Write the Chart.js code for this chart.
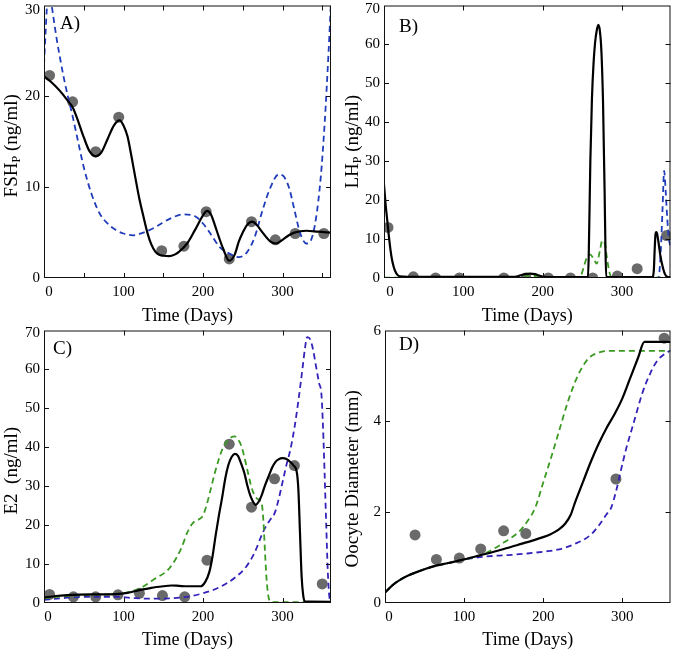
<!DOCTYPE html>
<html>
<head>
<meta charset="utf-8">
<script src="https://cdn.jsdelivr.net/npm/chart.js@4.4.0/dist/chart.umd.min.js"></script>
<style>
  body { margin: 0; background: #fff; }
  #wrap { position: relative; width: 676px; height: 650px; }
  canvas { position: absolute; }
</style>
</head>
<body>
<div id="wrap">
  <canvas id="cA" width="338" height="325" style="left:0;top:0"></canvas>
  <canvas id="cB" width="338" height="325" style="left:338px;top:0"></canvas>
  <canvas id="cC" width="338" height="325" style="left:0;top:325px"></canvas>
  <canvas id="cD" width="338" height="325" style="left:338px;top:325px"></canvas>
</div>
<script>
//DATOS
// A) FSH
const fshDotDays = [7, 36, 65, 94, 148, 176, 204, 233, 261, 291, 316, 352];
const fshDotVals = [22.3, 19.4, 13.9, 17.7, 3.0, 3.5, 7.3, 2.1, 6.2, 4.2, 4.9, 4.9];
const fshFitDays = [0, 10, 20, 30, 36, 42, 50, 57, 65, 72, 80, 88, 95, 100, 105, 110, 115, 120, 125, 130, 135, 140, 145, 150, 157, 165, 170, 180, 190, 200, 205, 210, 215, 220, 225, 233, 240, 245, 250, 255, 262, 268, 275, 285, 292, 300, 308, 315, 330, 345, 361];
const fshFitVals = [22.2, 21.5, 20.6, 19.5, 18.8, 17.5, 15.5, 14.0, 13.4, 13.8, 15.3, 16.8, 17.35, 16.8, 15.6, 13.4, 11.0, 8.7, 6.8, 5.0, 3.7, 2.9, 2.55, 2.45, 2.4, 2.6, 2.9, 3.8, 5.3, 6.9, 7.4, 7.0, 5.8, 4.5, 3.3, 1.9, 2.6, 4.0, 5.0, 5.8, 6.2, 5.8, 5.0, 4.0, 3.8, 4.2, 4.7, 5.0, 5.2, 5.1, 5.0];
const fshBlueDays = [0, 2, 4, 7, 10, 13, 16, 20, 25, 30, 35, 40, 50, 60, 70, 80, 90, 100, 112, 125, 140, 160, 175, 190, 200, 210, 220, 235, 245, 255, 265, 275, 285, 295, 300, 308, 315, 322, 330, 336, 342, 348, 353, 358, 361];
const fshBlueVals = [23.5, 27, 30.2, 31, 29.8, 28, 26.3, 24.3, 22, 20, 18.2, 16.2, 12.2, 9.2, 7.1, 6.0, 5.3, 4.9, 4.7, 5.0, 5.6, 6.6, 7.0, 6.8, 6.0, 4.8, 3.5, 2.6, 2.3, 2.8, 4.5, 7.5, 10, 11.4, 11.3, 10, 7.5, 5, 3.8, 4.2, 6.5, 11, 17, 25, 30.5];

// B) LH
const lhDotDays = [5, 37, 65, 95, 151, 179, 207, 235, 263, 294, 319, 356];
const lhDotVals = [13.0, 0.3, 0, 0, 0, 0, 0, 0, 0, 0.5, 2.4, 10.9];
const lhFitDays = [0, 2, 4, 6, 8, 10, 12, 14, 17, 20, 30, 100, 165, 172, 178, 184, 190, 196, 202, 210, 250, 257, 258, 260, 262, 264, 266, 268, 270, 272, 274, 276, 278, 279, 280, 300, 338, 340, 341, 342, 343, 344, 346, 348, 351, 354, 358, 361];
const lhFitVals = [24, 19, 15, 11, 7.5, 4.8, 3, 1.8, 0.8, 0.4, 0.3, 0.3, 0.3, 0.7, 1.0, 1.1, 1.0, 0.6, 0.3, 0.2, 0.2, 0.2, 6, 30, 46, 55, 60.5, 63.5, 65, 63.5, 58, 45, 22, 8, 0.3, 0.2, 0.2, 2, 7, 11, 11.8, 11.5, 9, 6, 3, 1, 0.2, 0.2];
const lhGreenDays = [0, 165, 172, 180, 188, 195, 202, 245, 248, 252, 256, 260, 264, 268, 272, 275, 278, 281, 284, 287, 361];
const lhGreenVals = [0.1, 0.1, 0.4, 0.7, 0.6, 0.3, 0.1, 0.1, 0.5, 3, 5.5, 6, 5, 3.7, 7, 9.6, 9, 5, 1.5, 0.1, 0.1];
const lhBlueDays = [0, 344, 346, 349, 351, 353, 355, 357, 359, 361];
const lhBlueVals = [0.05, 0.05, 0.2, 8, 18, 27.5, 22, 15, 10, 8];

// C) E2
const e2DotDays = [7, 37, 65, 93, 120, 149, 177, 205, 233, 261, 290, 315, 350];
const e2DotVals = [2.2, 1.6, 1.6, 2.1, 2.5, 1.9, 1.6, 11.0, 40.8, 24.6, 31.9, 35.3, 4.9];
const e2FitDays = [0, 15, 30, 60, 90, 105, 120, 135, 150, 160, 170, 180, 190, 197, 203, 208, 212, 216, 220, 224, 228, 232, 236, 240, 244, 248, 252, 256, 260, 263, 266, 270, 274, 278, 283, 287, 291, 295, 300, 305, 310, 314, 318, 320, 322, 324, 326, 328, 361];
const e2FitVals = [1.4, 1.8, 2.0, 2.2, 2.3, 2.6, 3.3, 3.9, 4.3, 4.5, 4.4, 4.3, 4.3, 4.3, 5.5, 8, 12, 17.5, 22.5, 27, 32, 35.5, 37.5, 38.3, 37.8, 35.8, 33.4, 30, 27.3, 26, 25.2, 26, 27.8, 30.2, 32.8, 34.8, 36.2, 36.9, 37.2, 37, 36.2, 35.3, 33.6, 29, 18, 7, 2, 0.4, 0.3];
const e2GreenDays = [0, 30, 60, 90, 100, 110, 120, 130, 140, 152, 160, 173, 180, 187, 192, 195, 200, 205, 210, 215, 220, 225, 230, 235, 240, 244, 248, 252, 256, 260, 264, 268, 272, 274, 276, 278, 280, 282, 284, 287, 361];
const e2GreenVals = [1.2, 1.8, 2.1, 2.3, 2.5, 3.0, 3.7, 4.9, 6.3, 7.8, 9.5, 14.2, 18, 20.5, 21.2, 21.5, 22.5, 25.5, 29.5, 33.5, 37, 39.8, 41.5, 42.5, 42.8, 42, 40.5, 37.5, 34, 30.5, 28, 26.8, 26.3, 25.5, 21, 13, 6, 2, 0.5, 0.2, 0.2];
const e2BlueDays = [0, 20, 50, 90, 110, 130, 160, 180, 200, 220, 240, 255, 265, 275, 280, 285, 290, 295, 300, 305, 310, 315, 320, 325, 328, 331, 334, 338, 342, 346, 349, 351, 353, 355, 357, 359, 361];
const e2BlueVals = [0.8, 1.2, 1.6, 1.6, 1.3, 1.1, 1.2, 1.6, 2.5, 4, 6.5, 9.5, 13, 18, 20, 21.5, 23, 26.5, 31, 35.5, 39.5, 45, 52, 60, 65, 68.3, 68, 65.5, 61, 56.5, 53.5, 45, 33, 20, 8, 1.5, 0.3];

// D) Oocyte
const ooDotDays = [38, 65, 94, 121, 150, 178, 292, 353];
const ooDotVals = [1.50, 0.96, 0.99, 1.19, 1.59, 1.53, 2.73, 5.83];
const ooFitDays = [0, 10, 20, 30, 40, 60, 80, 100, 120, 140, 160, 180, 200, 210, 220, 228, 235, 240, 250, 260, 270, 280, 290, 300, 310, 320, 328, 361];
const ooFitVals = [0.23, 0.4, 0.52, 0.61, 0.68, 0.8, 0.88, 0.96, 1.05, 1.14, 1.24, 1.34, 1.45, 1.52, 1.62, 1.75, 1.95, 2.2, 2.65, 3.1, 3.5, 3.85, 4.15, 4.5, 4.95, 5.4, 5.75, 5.75];
const ooGreenDays = [0, 10, 20, 30, 40, 60, 80, 100, 115, 130, 150, 170, 180, 190, 200, 210, 220, 231, 240, 248, 258, 268, 283, 361];
const ooGreenVals = [0.23, 0.4, 0.52, 0.61, 0.68, 0.8, 0.88, 0.96, 1.02, 1.12, 1.33, 1.58, 1.8, 2.1, 2.65, 3.2, 3.78, 4.42, 4.85, 5.15, 5.4, 5.5, 5.55, 5.55];
const ooBlueDays = [0, 10, 20, 30, 40, 60, 80, 100, 120, 140, 160, 180, 200, 220, 240, 260, 270, 280, 286, 292, 298, 305, 315, 325, 336, 345, 355, 361];
const ooBlueVals = [0.23, 0.4, 0.52, 0.61, 0.68, 0.8, 0.88, 0.96, 1.01, 1.04, 1.06, 1.09, 1.13, 1.18, 1.3, 1.5, 1.7, 1.95, 2.1, 2.45, 2.9, 3.4, 4.0, 4.6, 5.08, 5.35, 5.5, 5.56];

// ejes
const xTicksA = [0, 50, 100, 150, 200, 250, 300, 350];
const xTicksOther = [0, 100, 200, 300];
const yTicksFsh = [0, 10, 20, 30];
const yTicksLh = [0, 10, 20, 30, 40, 50, 60, 70];
const yTicksE2 = [0, 10, 20, 30, 40, 50, 60, 70];
const yTicksOo = [0, 2, 4, 6];
const xTitle = 'Time (Days)';

const SERIF = "'Liberation Serif', 'Times New Roman', serif";
const GRAY = '#6a6a6a';
const GREEN = '#3a9a22';

function pts(xs, ys) {
    return xs.map((x, i) => ({x: x, y: ys[i]}));
}

//PLUGIN: caja, marcas hacia dentro, letra del panel, titulo Y con subindice
const decor = {
    id: 'decor',
    beforeDraw(chart, args, o) {
        // labels del borde un poco desplazados como en la figura original
        const yi = chart.scales.y.getLabelItems();
        if (yi.length) yi[yi.length - 1].options.translation[1] += o.topShift;
        const xi = chart.scales.x.getLabelItems();
        if (xi.length) xi[0].options.translation[0] += o.zeroShift;
    },
    afterDraw(chart, args, o) {
        const {ctx, chartArea: a, scales} = chart;
        ctx.save();
        ctx.strokeStyle = '#111';
        ctx.lineWidth = 1;
        ctx.strokeRect(a.left + 0.5, a.top + 0.5, a.right - a.left - 1, a.bottom - a.top - 1);
        ctx.beginPath();
        scales.x.ticks.forEach(t => {
            const px = Math.round(scales.x.getPixelForValue(t.value)) + 0.5;
            if (px <= a.left + 2 || px >= a.right - 2) return;
            ctx.moveTo(px, a.bottom); ctx.lineTo(px, a.bottom - 5);
            ctx.moveTo(px, a.top); ctx.lineTo(px, a.top + 5);
        });
        scales.y.ticks.forEach(t => {
            const py = Math.round(scales.y.getPixelForValue(t.value)) + 0.5;
            if (py <= a.top + 2 || py >= a.bottom - 2) return;
            ctx.moveTo(a.left, py); ctx.lineTo(a.left + 5, py);
            ctx.moveTo(a.right, py); ctx.lineTo(a.right - 5, py);
        });
        ctx.stroke();

        ctx.fillStyle = '#000';
        ctx.textAlign = 'left';
        ctx.textBaseline = 'middle';
        ctx.font = '19px ' + SERIF;
        ctx.fillText(o.letter, a.left + o.lx, a.top + o.ly);

        ctx.translate(o.tx, (a.top + a.bottom) / 2 + o.ty);
        ctx.rotate(-Math.PI / 2);
        const big = '19px ' + SERIF, small = '12px ' + SERIF;
        ctx.font = big;
        const w1 = ctx.measureText(o.main).width;
        const w3 = ctx.measureText(o.rest).width;
        ctx.font = small;
        const w2 = o.sub ? ctx.measureText(o.sub).width : 0;
        let x = -(w1 + w2 + w3) / 2;
        ctx.font = big; ctx.fillText(o.main, x, 0); x += w1;
        if (o.sub) { ctx.font = small; ctx.fillText(o.sub, x, 5); x += w2; }
        ctx.font = big; ctx.fillText(o.rest, x, 0);
        ctx.restore();
    }
};

function lineSet(data, color, dashed, order) {
    return {
        data: data, borderColor: color, borderWidth: dashed ? 1.8 : 2.2,
        borderDash: dashed ? [6, 4] : [], pointRadius: 0, fill: false,
        cubicInterpolationMode: 'monotone', order: order
    };
}

function makePanel(id, p) {
    const datasets = [{
        data: pts(p.dotX, p.dotY), showLine: false, pointRadius: 5.5,
        pointBackgroundColor: GRAY, pointBorderWidth: 0, order: 5
    }];
    if (p.blue) datasets.push(lineSet(p.blue, p.blueColor, true, 4));
    if (p.green) datasets.push(lineSet(p.green, GREEN, true, 3));
    datasets.push(lineSet(p.fit, '#000', false, 1));

    new Chart(document.getElementById(id), {
        type: 'line',
        data: { datasets: datasets },
        options: {
            responsive: false,
            animation: false,
            events: [],
            layout: { padding: { top: p.top, right: p.right, left: 0, bottom: 0 } },
            plugins: {
                legend: { display: false },
                tooltip: { enabled: false },
                decor: p.decor
            },
            scales: {
                x: {
                    type: 'linear', min: 0, max: 361,
                    grid: { display: false, drawTicks: false },
                    border: { display: false },
                    afterBuildTicks: s => { s.ticks = p.xTicks.map(v => ({value: v})); },
                    afterFit: s => { s.height = p.xh; s.paddingLeft = 0; s.paddingRight = 0; },
                    ticks: {
                        autoSkip: false, maxRotation: 0, padding: 5, color: '#000',
                        font: { family: SERIF, size: 15 },
                        callback: v => (v % 100 === 0 ? String(v) : '')
                    },
                    title: {
                        display: true, text: xTitle, color: '#000',
                        font: { family: SERIF, size: 18, lineHeight: 1 },
                        padding: { top: 0, bottom: p.titlePad }
                    }
                },
                y: {
                    type: 'linear', min: p.yMin, max: p.yMax,
                    grid: { display: false, drawTicks: false },
                    border: { display: false },
                    afterBuildTicks: s => { s.ticks = p.yTicks.map(v => ({value: v})); },
                    afterFit: s => { s.width = p.yw; s.paddingTop = 0; s.paddingBottom = 0; },
                    ticks: {
                        padding: 4, color: '#000',
                        font: { family: SERIF, size: 15 }
                    }
                }
            }
        },
        plugins: [decor]
    });
}

makePanel('cA', {
    dotX: fshDotDays, dotY: fshDotVals,
    fit: pts(fshFitDays, fshFitVals),
    blue: pts(fshBlueDays, fshBlueVals), blueColor: '#1f3cba',
    xTicks: xTicksA, yTicks: yTicksFsh, yMin: 0, yMax: 30,
    top: 4, right: 7, yw: 44, xh: 47, titlePad: 0,
    decor: { letter: 'A)', lx: 16, ly: 19, tx: 12, ty: 4, main: 'FSH', sub: 'P', rest: ' (ng/ml)', topShift: 5, zeroShift: 5 }
});

makePanel('cB', {
    dotX: lhDotDays, dotY: lhDotVals,
    fit: pts(lhFitDays, lhFitVals),
    green: pts(lhGreenDays, lhGreenVals),
    blue: pts(lhBlueDays, lhBlueVals), blueColor: '#1f3cba',
    xTicks: xTicksOther, yTicks: yTicksLh, yMin: 0, yMax: 70,
    top: 3, right: 4, yw: 46, xh: 47, titlePad: 0,
    decor: { letter: 'B)', lx: 15, ly: 22, tx: 15, ty: 0, main: 'LH', sub: 'P', rest: ' (ng/ml)', topShift: 4, zeroShift: 6 }
});

makePanel('cC', {
    dotX: e2DotDays, dotY: e2DotVals,
    fit: pts(e2FitDays, e2FitVals),
    green: pts(e2GreenDays, e2GreenVals),
    blue: pts(e2BlueDays, e2BlueVals), blueColor: '#3323b8',
    xTicks: xTicksOther, yTicks: yTicksE2, yMin: 0, yMax: 70,
    top: 1, right: 7, yw: 44, xh: 47, titlePad: 1,
    decor: { letter: 'C)', lx: 9, ly: 19, tx: 12, ty: 4, main: 'E2', sub: '', rest: '  (ng/ml)', topShift: 3, zeroShift: 4 }
});

makePanel('cD', {
    dotX: ooDotDays, dotY: ooDotVals,
    fit: pts(ooFitDays, ooFitVals),
    green: pts(ooGreenDays, ooGreenVals),
    blue: pts(ooBlueDays, ooBlueVals), blueColor: '#3323b8',
    xTicks: xTicksOther, yTicks: yTicksOo, yMin: 0, yMax: 6,
    top: 2, right: 4, yw: 47, xh: 47, titlePad: 1,
    decor: { letter: 'D)', lx: 14, ly: 15, tx: 15, ty: 12, main: 'Oocyte Diameter (mm)', sub: '', rest: '', topShift: 1, zeroShift: 4 }
});
</script>
</body>
</html>
